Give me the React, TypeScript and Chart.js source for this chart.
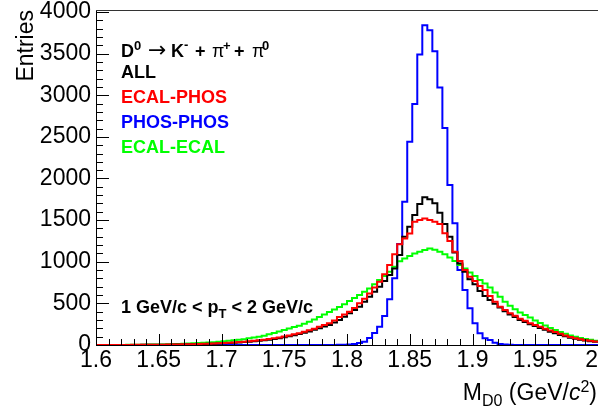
import React, { useEffect, useRef } from 'react';
import { Chart, registerables } from 'chart.js';

Chart.register(...registerables);

// ---- data ----
const BIN_START = 1.6;
const BIN_WIDTH = 0.004;
const X_MIN = 1.6;
const X_MAX = 2.0;
const Y_MIN = 0;
const Y_MAX = 4024;
const X_TICKS = [1.6, 1.65, 1.7, 1.75, 1.8, 1.85, 1.9, 1.95, 2.0];
const X_TICK_LABELS = ['1.6', '1.65', '1.7', '1.75', '1.8', '1.85', '1.9', '1.95', '2  '];
const Y_TICKS = [0, 500, 1000, 1500, 2000, 2500, 3000, 3500, 4000];
const X_MINOR_STEP = 0.01;
const Y_MINOR_STEP = 100;

const SERIES_NAMES = ['ALL', 'ECAL-PHOS', 'PHOS-PHOS', 'ECAL-ECAL'];
const SERIES_COLORS = ['#000000', '#ff0000', '#0000ff', '#00ff00'];

const ALL = [
  0, 0, 0, 0, 0, 1, 1, 1, 1, 2,
  2, 3, 3, 4, 4, 5, 6, 7, 8, 9,
  10, 12, 14, 16, 18, 21, 24, 27, 31, 35,
  40, 45, 51, 57, 64, 72, 82, 94, 106, 118,
  131, 146, 163, 182, 202, 222, 240, 270, 300, 340,
  380, 420, 460, 520, 580, 640, 700, 770, 840, 920,
  1080, 1300, 1421, 1561, 1693, 1774, 1750, 1702, 1590, 1453,
  1300, 1110, 980, 880, 790, 730, 650, 590, 540, 495,
  450, 405, 365, 335, 300, 275, 250, 228, 205, 182,
  160, 140, 120, 104, 88, 75, 64, 54, 46, 38,
];

const ECAL_PHOS = [
  0, 0, 0, 0, 1, 1, 1, 2, 2, 2,
  3, 3, 4, 4, 5, 6, 7, 8, 9, 10,
  12, 14, 16, 18, 21, 24, 27, 31, 35, 40,
  45, 51, 57, 64, 72, 80, 90, 102, 115, 128,
  142, 158, 176, 196, 218, 240, 260, 295, 335, 365,
  400, 445, 500, 555, 620, 690, 760, 850, 960, 1090,
  1210, 1280, 1340, 1481, 1501, 1521, 1501, 1481, 1453, 1341,
  1250, 1120, 1010, 900, 820, 770, 710, 660, 590, 520,
  460, 420, 380, 350, 315, 290, 260, 240, 220, 195,
  175, 155, 135, 115, 95, 80, 70, 58, 50, 42,
];

const PHOS_PHOS = [
  0, 0, 0, 0, 0, 0, 0, 0, 0, 0,
  0, 0, 0, 0, 0, 0, 0, 0, 0, 0,
  0, 0, 0, 0, 0, 0, 0, 0, 0, 0,
  0, 0, 0, 0, 0, 0, 0, 0, 0, 0,
  0, 0, 0, 0, 0, 0, 0, 0, 2, 3,
  6, 12, 25, 40, 84, 144, 220, 348, 549, 801,
  1213, 1721, 2442, 2894, 3488, 3840, 3780, 3528, 3092, 2606,
  1922, 1461, 901, 660, 440, 260, 140, 80, 60, 28,
  12, 5, 3, 1, 0, 0, 0, 0, 0, 0,
  0, 0, 0, 0, 0, 0, 0, 0, 0, 0,
];

const ECAL_ECAL = [
  0, 0, 0, 1, 1, 1, 2, 2, 3, 3,
  5, 5, 6, 7, 8, 10, 12, 14, 17, 20,
  24, 27, 30, 34, 38, 44, 50, 56, 62, 70,
  80, 90, 100, 112, 128, 145, 162, 180, 198, 215,
  232, 255, 280, 305, 335, 365, 395, 425, 455, 490,
  530, 565, 600, 640, 680, 730, 780, 830, 880, 940,
  1005, 1040, 1070, 1100, 1120, 1140, 1160, 1145, 1120, 1090,
  1050, 1010, 960, 920, 870, 830, 780, 740, 690, 630,
  580, 520, 470, 430, 390, 360, 330, 295, 265, 235,
  205, 180, 155, 135, 115, 98, 85, 72, 62, 52,
];

const FONT = '"Liberation Sans", Arial, Helvetica, sans-serif';

function toSteps(values: number[]) {
  const pts = values.map((v, i) => ({ x: BIN_START + i * BIN_WIDTH, y: v }));
  pts.push({ x: BIN_START + values.length * BIN_WIDTH, y: values[values.length - 1] });
  return pts;
}

type Piece = { t: string; font: string; dy?: number; x?: number; color?: string };

function drawPieces(ctx: CanvasRenderingContext2D, x0: number, y: number, pieces: Piece[], color: string) {
  let cx = x0;
  for (const p of pieces) {
    ctx.font = p.font;
    ctx.fillStyle = p.color || color;
    const px = p.x !== undefined ? p.x : cx;
    ctx.fillText(p.t, px, y + (p.dy || 0));
    cx = px + ctx.measureText(p.t).width;
  }
  return cx;
}

function widthOf(ctx: CanvasRenderingContext2D, pieces: Piece[]) {
  let w = 0;
  for (const p of pieces) {
    ctx.font = p.font;
    w += ctx.measureText(p.t).width;
  }
  return w;
}

const decorPlugin = {
  id: 'rootDecor',
  afterDatasetsDraw(chart: any) {
    const { ctx, chartArea: a, scales } = chart;
    const xs = scales.x;
    const ys = scales.y;
    ctx.save();
    ctx.strokeStyle = '#000';
    ctx.lineWidth = 1;
    ctx.beginPath();
    // x ticks (inward)
    const nx = Math.round((X_MAX - X_MIN) / X_MINOR_STEP);
    for (let k = 0; k <= nx; k++) {
      const v = X_MIN + k * X_MINOR_STEP;
      const px = Math.round(xs.getPixelForValue(v)) + 0.5;
      const len = k % 5 === 0 ? 11 : 6;
      ctx.moveTo(px, a.bottom);
      ctx.lineTo(px, a.bottom - len);
    }
    // y ticks (inward)
    const ny = Math.round(4000 / Y_MINOR_STEP);
    for (let k = 0; k <= ny; k++) {
      const v = k * Y_MINOR_STEP;
      const py = Math.round(ys.getPixelForValue(v)) + 0.5;
      const len = k % 5 === 0 ? 13 : 7;
      ctx.moveTo(a.left, py);
      ctx.lineTo(a.left + len, py);
    }
    ctx.stroke();
    // top frame
    ctx.strokeStyle = '#333';
    ctx.beginPath();
    ctx.moveTo(a.left, Math.round(a.top) + 0.5);
    ctx.lineTo(a.right, Math.round(a.top) + 0.5);
    ctx.stroke();
    ctx.restore();
  },
  afterDraw(chart: any) {
    const { ctx } = chart;
    ctx.save();
    ctx.textBaseline = 'alphabetic';
    ctx.textAlign = 'left';
    const bold = `bold 18px ${FONT}`;
    const boldSmall = `bold 13px ${FONT}`;
    const greek = `18px ${FONT}`;
    // decay title
    const yD = 57;
    drawPieces(ctx, 121, yD, [
      { t: 'D', font: bold, x: 121 },
      { t: '0', font: boldSmall, dy: -7, x: 134 },
      { t: '\u2192', font: `22px "DejaVu Sans", sans-serif`, x: 148 },
      { t: 'K', font: bold, x: 171 },
      { t: '-', font: boldSmall, dy: -8, x: 184 },
      { t: '+', font: bold, x: 195 },
      { t: '\u03c0', font: greek, x: 212 },
      { t: '+', font: boldSmall, dy: -7, x: 223 },
      { t: '+', font: bold, x: 234 },
      { t: '\u03c0', font: greek, x: 252 },
      { t: '0', font: boldSmall, dy: -7, x: 262 },
    ], '#000');
    // legend entries
    const ys = [78, 103, 128, 153];
    SERIES_NAMES.forEach((name, i) => {
      ctx.font = bold;
      ctx.fillStyle = SERIES_COLORS[i];
      ctx.fillText(name, 121, ys[i]);
    });
    // pT range
    drawPieces(ctx, 121, 313, [
      { t: '1 GeV/c < p', font: bold },
      { t: 'T', font: boldSmall, dy: 5 },
      { t: ' < 2 GeV/c', font: bold },
    ], '#000');
    // x-axis title
    const reg = `23px ${FONT}`;
    const small = `16px ${FONT}`;
    const pieces: Piece[] = [
      { t: 'M', font: reg },
      { t: 'D0', font: small, dy: 6 },
      { t: ' (GeV/', font: reg },
      { t: 'c', font: `italic 23px ${FONT}` },
      { t: '2', font: small, dy: -8 },
      { t: ')', font: reg },
    ];
    const w = widthOf(ctx, pieces);
    drawPieces(ctx, 597 - w, 400, pieces, '#000');
    ctx.restore();
  },
};

export default function App() {
  const ref = useRef<HTMLCanvasElement | null>(null);
  useEffect(() => {
    document.body.style.margin = '0';
    const canvas = ref.current;
    if (!canvas) return;
    const mk = (label: string, values: number[], color: string) => ({
      label,
      data: toSteps(values),
      borderColor: color,
      backgroundColor: color,
      borderWidth: 2,
      pointRadius: 0,
      pointHoverRadius: 0,
      fill: false,
      stepped: true,
      tension: 0,
      borderJoinStyle: 'miter' as const,
      borderCapStyle: 'butt' as const,
    });
    const chart = new Chart(canvas, {
      type: 'line',
      data: {
        datasets: [
          mk(SERIES_NAMES[1], ECAL_PHOS, SERIES_COLORS[1]),
          mk(SERIES_NAMES[0], ALL, SERIES_COLORS[0]),
          mk(SERIES_NAMES[3], ECAL_ECAL, SERIES_COLORS[3]),
          mk(SERIES_NAMES[2], PHOS_PHOS, SERIES_COLORS[2]),
        ],
      },
      options: {
        responsive: false,
        devicePixelRatio: 1,
        animation: false,
        events: [],
        layout: { padding: { top: 10, right: 0, bottom: 0, left: 0 } },
        plugins: { legend: { display: false }, tooltip: { enabled: false } },
        scales: {
          x: {
            type: 'linear',
            min: X_MIN,
            max: X_MAX,
            grid: { display: false, drawTicks: false },
            border: { display: true, color: '#000', width: 1 },
            afterBuildTicks: (s: any) => {
              s.ticks = X_TICKS.map((v) => ({ value: v }));
            },
            ticks: {
              padding: 2,
              color: '#000',
              maxRotation: 0,
              autoSkip: false,
              font: { family: FONT, size: 23 },
              callback: (_v: any, i: number) => X_TICK_LABELS[i],
            },
            afterFit: (s: any) => {
              s.height = 66;
              s.paddingLeft = 0;
              s.paddingRight = 0;
            },
          },
          y: {
            type: 'linear',
            min: Y_MIN,
            max: Y_MAX,
            grid: { display: false, drawTicks: false },
            border: { display: true, color: '#000', width: 1 },
            afterBuildTicks: (s: any) => {
              s.ticks = Y_TICKS.map((v) => ({ value: v }));
            },
            ticks: {
              padding: 5,
              color: '#000',
              font: { family: FONT, size: 23 },
              callback: (v: any) => String(v),
            },
            title: {
              display: true,
              text: 'Entries',
              align: 'end',
              color: '#000',
              font: { family: FONT, size: 23 },
              padding: { top: 13, bottom: 0 },
            },
            afterFit: (s: any) => {
              s.width = 96;
              s.paddingTop = 0;
              s.paddingBottom = 0;
            },
          },
        },
      },
      plugins: [decorPlugin],
    } as any);
    return () => chart.destroy();
  }, []);
  return (
    <div style={{ width: 598, height: 411 }}>
      <canvas ref={ref} width={598} height={411} style={{ display: 'block' }} />
    </div>
  );
}
